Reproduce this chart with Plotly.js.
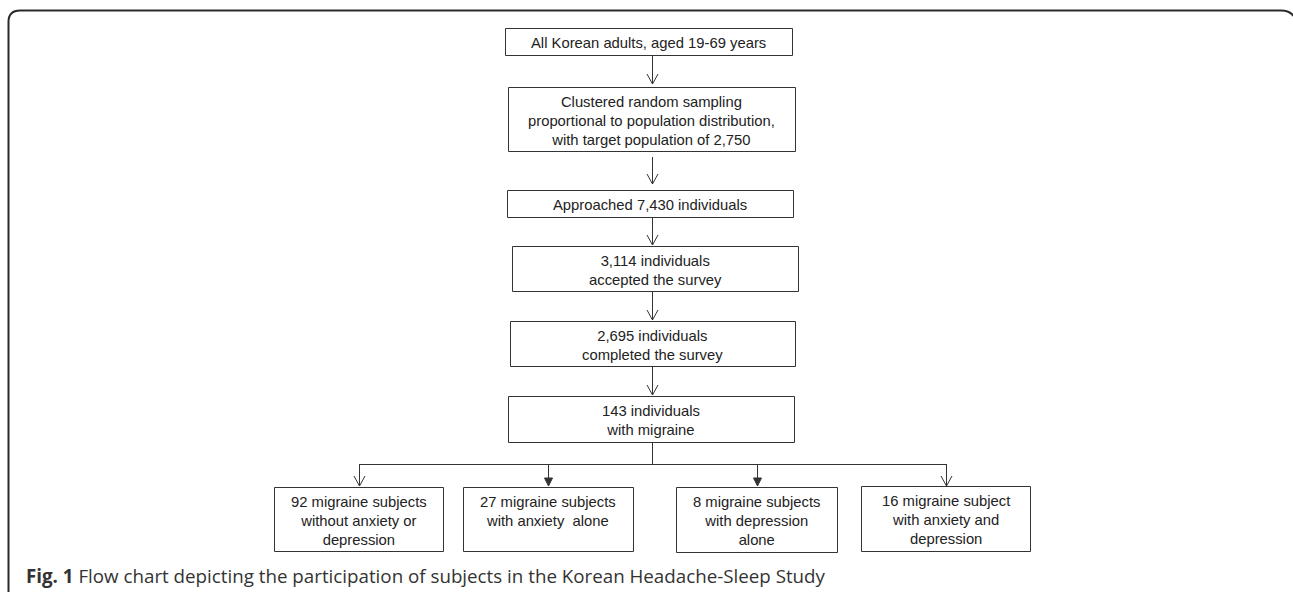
<!DOCTYPE html>
<html><head><meta charset="utf-8">
<script src="https://cdn.plot.ly/plotly-3.0.1.min.js"></script>
<style>html,body{margin:0;padding:0;background:#fff}#chart{width:1293px;height:592px}</style>
</head><body><div id="chart"></div>
<script>
// ---- content ----
const stepLabels = [
  "All Korean adults, aged 19-69 years",
  "Clustered random sampling<br>proportional to population distribution,<br>with target population of 2,750",
  "Approached 7,430 individuals",
  "3,114 individuals<br>accepted the survey",
  "2,695 individuals<br>completed the survey",
  "143 individuals<br>with migraine"
];
const groupCounts = [92, 27, 8, 16];
const groupLabels = [
  " migraine subjects<br>without anxiety or<br>depression",
  " migraine subjects<br>with anxiety  alone",
  " migraine subjects<br>with depression<br>alone",
  " migraine subject<br>with anxiety and<br>depression"
];
const groupArrowFilled = [false, true, true, false];
const captionBold = "Fig. 1";
const captionText = " Flow chart depicting the participation of subjects in the Korean Headache-Sleep Study";

// ---- geometry (layout only) ----
const stepBoxes = [ // [x0, x1, y0, y1]
  [505, 792, 28, 55],
  [508, 795, 87, 151],
  [507, 793, 190, 217],
  [512, 798, 246, 291],
  [510, 795, 321, 366],
  [508, 794, 396, 442]
];
const stepArrows = [ // [x, y0, y1]
  [652, 55, 84],
  [652, 157, 184],
  [652, 217, 245],
  [652, 291, 320],
  [652, 366, 395]
];
const groupBoxes = [
  [274, 443, 487, 551],
  [463, 633, 487, 551],
  [676, 837, 487, 552],
  [861, 1030, 486, 551]
];
const branchY = 464, stemTop = 442, dropEnd = 486;

const LINE = '#333';
const TXT = '#222';
const FONT = 'Liberation Sans, Arial, sans-serif';
const FS = 14.8;

const shapes = [];
const annotations = [];

// outer frame
shapes.push({type:'path', xref:'x', yref:'y',
  path:'M 8.5 600 L 8.5 22 Q 8.5 10.5 20 10.5 L 1281 10.5 Q 1293 10.5 1297 22',
  line:{color:'#2a2a2a', width:2}});

function rect(b){
  shapes.push({type:'rect', xref:'x', yref:'y', x0:b[0]+0.5, x1:b[1]+0.5, y0:b[2]+0.5, y1:b[3]+0.5,
    line:{color:LINE, width:1}, fillcolor:'rgba(0,0,0,0)'});
}
function vline(x, y0, y1){
  shapes.push({type:'line', xref:'x', yref:'y', x0:x+0.5, x1:x+0.5, y0:y0, y1:y1, line:{color:LINE, width:1}});
}
function arrowHead(x, y, filled){
  x += 0.5;
  if (filled) {
    shapes.push({type:'path', xref:'x', yref:'y',
      path:`M ${x-4} ${y-8} L ${x} ${y} L ${x+4} ${y-8} Z`,
      fillcolor:LINE, line:{color:LINE, width:1}});
  } else {
    shapes.push({type:'path', xref:'x', yref:'y',
      path:`M ${x-5.5} ${y-10} L ${x} ${y} L ${x+5.5} ${y-10}`,
      line:{color:LINE, width:1}});
  }
}

stepBoxes.forEach((b, i) => {
  rect(b);
  annotations.push({xref:'x', yref:'y', x:(b[0]+b[1])/2, y:(b[2]+b[3])/2 + 1.5,
    text:stepLabels[i], showarrow:false, xanchor:'center', yanchor:'middle', align:'center',
    font:{family:FONT, size:FS, color:TXT}});
});
stepArrows.forEach(a => { vline(a[0], a[1], a[2]); arrowHead(a[0], a[2], false); });

// branch
const centers = groupBoxes.map(b => Math.round((b[0]+b[1])/2));
vline(652, stemTop, branchY);
shapes.push({type:'line', xref:'x', yref:'y', x0:centers[0]+0.5, x1:centers[3]+0.5,
  y0:branchY+0.5, y1:branchY+0.5, line:{color:LINE, width:1}});
groupBoxes.forEach((b, i) => {
  rect(b);
  vline(centers[i], branchY, dropEnd);
  arrowHead(centers[i], dropEnd, groupArrowFilled[i]);
  annotations.push({xref:'x', yref:'y', x:(b[0]+b[1])/2, y:b[2]+4.5,
    text:groupCounts[i] + groupLabels[i], showarrow:false, xanchor:'center', yanchor:'top', align:'center',
    font:{family:FONT, size:FS, color:TXT}});
});

// caption
annotations.push({xref:'x', yref:'y', x:24, y:575, xanchor:'left', yanchor:'middle', showarrow:false,
  text:'<b>' + captionBold + '</b>' + captionText, align:'left',
  font:{family:'Open Sans, sans-serif', size:18.75, color:'#333'}});

const layout = {
  width:1293, height:592,
  margin:{l:0, r:0, t:0, b:0},
  paper_bgcolor:'#fff', plot_bgcolor:'#fff',
  xaxis:{range:[0,1293], visible:false, fixedrange:true},
  yaxis:{range:[592,0], visible:false, fixedrange:true},
  shapes:shapes, annotations:annotations, showlegend:false
};
Plotly.newPlot('chart', [], layout, {staticPlot:true, displayModeBar:false});
</script></body></html>
